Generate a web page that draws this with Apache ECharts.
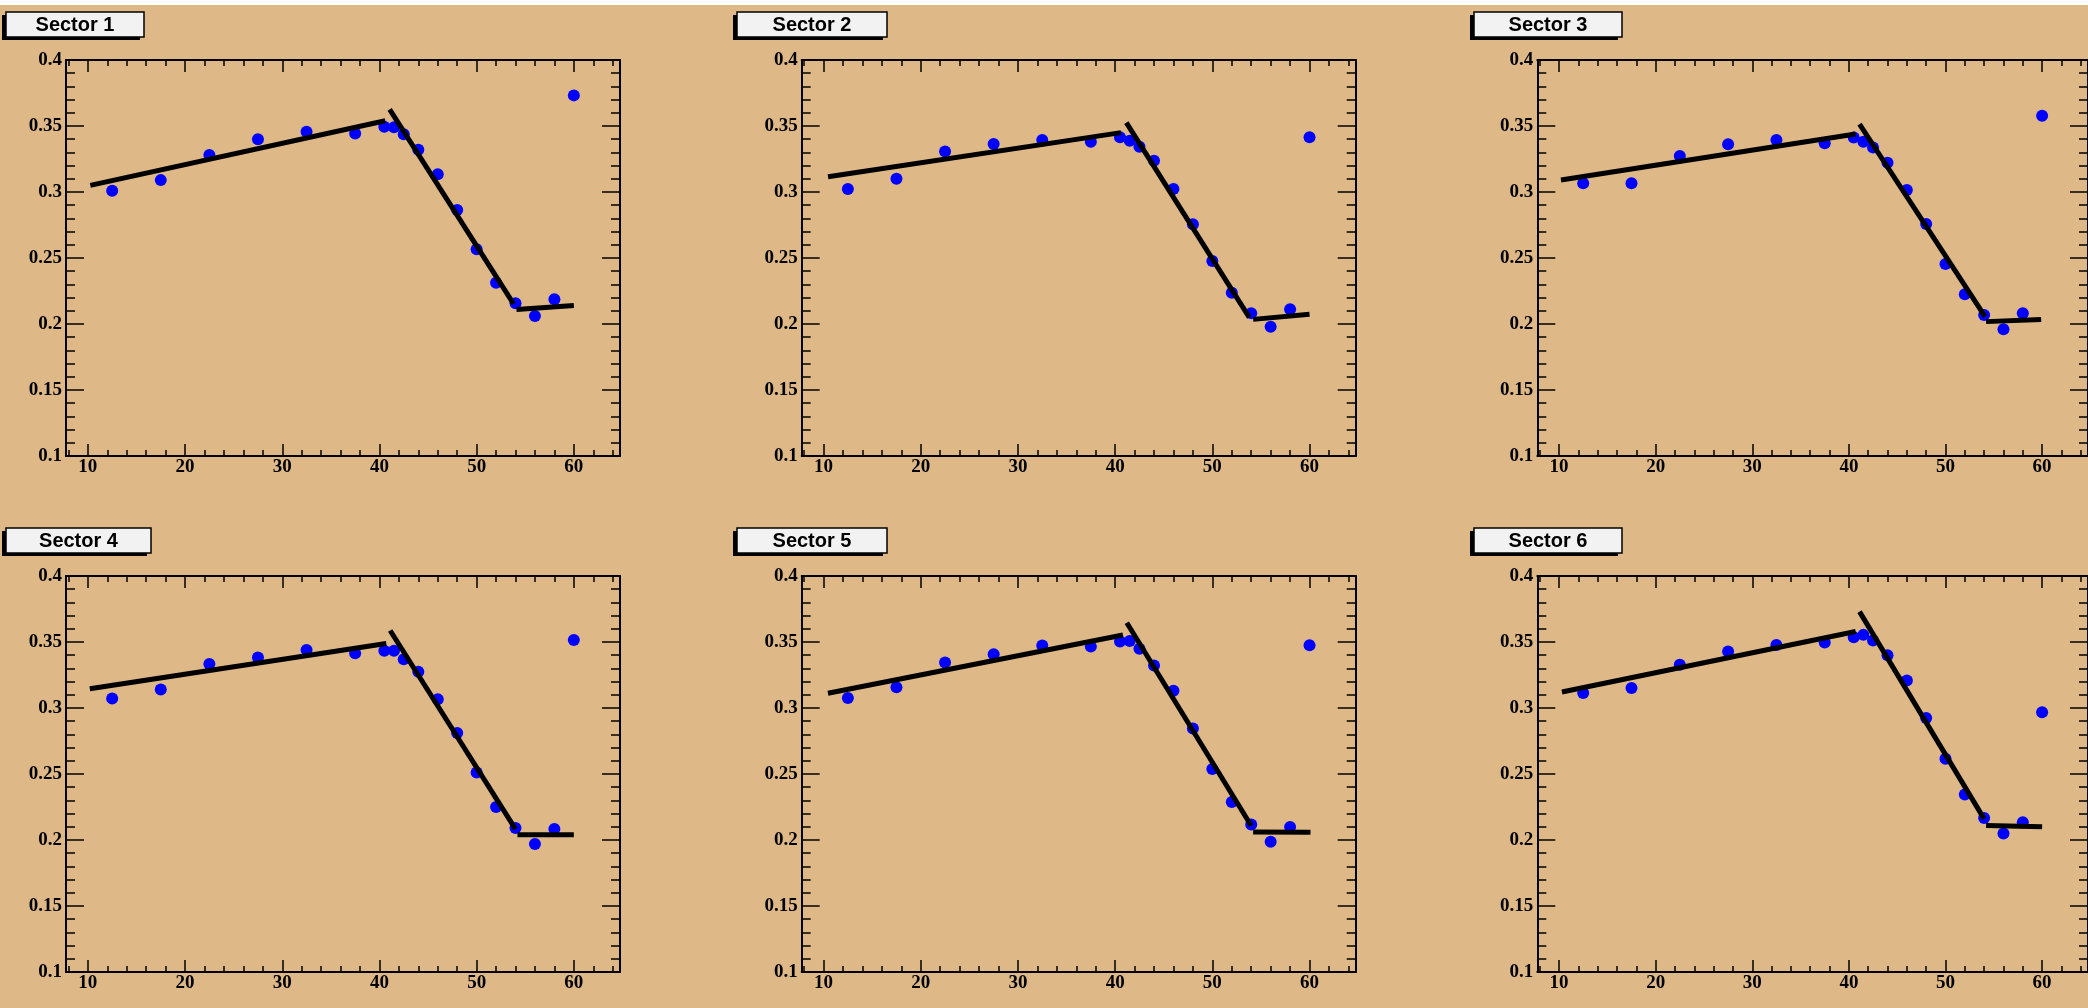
<!DOCTYPE html>
<html>
<head>
<meta charset="utf-8">
<script src="https://cdn.jsdelivr.net/npm/echarts@6/dist/echarts.min.js"></script>
<style>html,body{margin:0;padding:0;background:#deb887;}#c{width:2088px;height:1008px;}</style>
</head>
<body>
<div id="c"></div>
<script>
// ---- data ----
const titles = ['Sector 1', 'Sector 2', 'Sector 3', 'Sector 4', 'Sector 5', 'Sector 6'];
const xValues = [12.5, 17.5, 22.5, 27.5, 32.5, 37.5, 40.5, 41.5, 42.5, 44, 46, 48, 50, 52, 54, 56, 58, 60];
const sector1 = [0.301, 0.309, 0.328, 0.340, 0.3457, 0.3444, 0.3495, 0.349, 0.3437, 0.332, 0.3134, 0.2864, 0.2566, 0.2313, 0.2157, 0.206, 0.2187, 0.3732];
const sector2 = [0.3023, 0.310, 0.3306, 0.3364, 0.3394, 0.3381, 0.3414, 0.3389, 0.3343, 0.3237, 0.3023, 0.2755, 0.2477, 0.2237, 0.2081, 0.198, 0.2111, 0.3414];
const sector3 = [0.3066, 0.3066, 0.3273, 0.3361, 0.3394, 0.3369, 0.3412, 0.3381, 0.3338, 0.3222, 0.3015, 0.2758, 0.2455, 0.2225, 0.2068, 0.196, 0.2081, 0.3578];
const sector4 = [0.3072, 0.3140, 0.3334, 0.3382, 0.3440, 0.3415, 0.3433, 0.3433, 0.3370, 0.3274, 0.3067, 0.2810, 0.2512, 0.2250, 0.2091, 0.1970, 0.2084, 0.3516];
const sector5 = [0.3075, 0.3158, 0.3344, 0.3407, 0.3473, 0.3465, 0.3503, 0.3508, 0.3448, 0.3322, 0.3130, 0.2845, 0.2538, 0.2288, 0.2117, 0.1986, 0.2099, 0.3475];
const sector6 = [0.3113, 0.3151, 0.3327, 0.3428, 0.3478, 0.3496, 0.3536, 0.3554, 0.3511, 0.3400, 0.3209, 0.2924, 0.2616, 0.2344, 0.2167, 0.2049, 0.2135, 0.2967];
// fit segments: [x0, y0, x1, y1]
const fit1 = [[10.25, 0.305, 40.6, 0.354], [41.05, 0.3626, 53.8, 0.2152], [54.1, 0.211, 60, 0.214]];
const fit2 = [[10.46, 0.3116, 40.6, 0.345], [41.15, 0.3525, 53.8, 0.205], [54.2, 0.2035, 60, 0.2073]];
const fit3 = [[10.2, 0.3091, 40.7, 0.3439], [41.1, 0.3515, 54.1, 0.2056], [54.2, 0.2018, 59.9, 0.2035]];
const fit4 = [[10.2, 0.3146, 40.7, 0.3489], [41.1, 0.3587, 54.0, 0.2083], [54.2, 0.204, 60, 0.204]];
const fit5 = [[10.45, 0.3112, 40.8, 0.3553], [41.2, 0.3646, 54.0, 0.2108], [54.2, 0.206, 60.1, 0.2058]];
const fit6 = [[10.3, 0.3121, 40.7, 0.3579], [41.1, 0.373, 54.0, 0.216], [54.2, 0.211, 60, 0.21]];
const xMajorTicks = [10, 20, 30, 40, 50, 60];
const xMinorTicks = [8, 12, 14, 16, 18, 22, 24, 26, 28, 32, 34, 36, 38, 42, 44, 46, 48, 52, 54, 56, 58, 62, 64];
const yMajorTicks = [0.1, 0.15, 0.2, 0.25, 0.3, 0.35, 0.4];
const yMinorTicks = [0.11, 0.12, 0.13, 0.14, 0.16, 0.17, 0.18, 0.19, 0.21, 0.22, 0.23, 0.24, 0.26, 0.27, 0.28, 0.29, 0.31, 0.32, 0.33, 0.34, 0.36, 0.37, 0.38, 0.39];
const xMin = 7.75, xMax = 64.75, yMin = 0.1, yMax = 0.4;

const sectors = [sector1, sector2, sector3, sector4, sector5, sector6];
const fits = [fit1, fit2, fit3, fit4, fit5, fit6];

// ---- layout ----
const colLeft = [66, 801.7, 1537.3];
const rowTop = [60, 576];
const plotW = 554, plotH = 396;
const boxX = [[6, 144], [737, 887], [1474, 1622], [6, 151], [737, 887], [1474, 1622]];
const boxY = [12, 528];
const boxH = 25;

const labelFont = { fontFamily: 'Liberation Serif', fontWeight: 'bold', fontSize: 19, color: '#000' };
const lineCol = '#000';

const grids = [], xAxes = [], yAxes = [], series = [], graphics = [];

graphics.push({ type: 'rect', shape: { x: 0, y: 0, width: 2088, height: 5 }, style: { fill: '#ffffff' }, z: 100 });

for (let i = 0; i < 6; i++) {
  const c = i % 3, r = Math.floor(i / 3);
  grids.push({ left: colLeft[c], top: rowTop[r], width: plotW, height: plotH, containLabel: false });
  const xBase = { gridIndex: i, type: 'value', min: xMin, max: xMax, splitLine: { show: false } };
  const yBase = { gridIndex: i, type: 'value', min: yMin, max: yMax, splitLine: { show: false } };
  xAxes.push(Object.assign({}, xBase, {
    position: 'bottom',
    axisLine: { show: true, onZero: false, lineStyle: { color: lineCol, width: 2 } },
    axisTick: { show: true, inside: true, length: 12, customValues: xMajorTicks, lineStyle: { color: lineCol, width: 1.5 } },
    axisLabel: Object.assign({ show: true, margin: 2, customValues: xMajorTicks }, labelFont)
  }));
  xAxes.push(Object.assign({}, xBase, {
    position: 'bottom',
    axisLine: { show: false, onZero: false },
    axisTick: { show: true, inside: true, length: 6, customValues: xMinorTicks, lineStyle: { color: lineCol, width: 1.5 } },
    axisLabel: { show: false }
  }));
  xAxes.push(Object.assign({}, xBase, {
    position: 'top',
    axisLine: { show: true, onZero: false, lineStyle: { color: lineCol, width: 2 } },
    axisTick: { show: true, inside: true, length: 12, customValues: xMajorTicks, lineStyle: { color: lineCol, width: 1.5 } },
    axisLabel: { show: false }
  }));
  xAxes.push(Object.assign({}, xBase, {
    position: 'top',
    axisLine: { show: false, onZero: false },
    axisTick: { show: true, inside: true, length: 6, customValues: xMinorTicks, lineStyle: { color: lineCol, width: 1.5 } },
    axisLabel: { show: false }
  }));
  yAxes.push(Object.assign({}, yBase, {
    position: 'left',
    axisLine: { show: true, onZero: false, lineStyle: { color: lineCol, width: 2 } },
    axisTick: { show: true, inside: true, length: 18, customValues: yMajorTicks, lineStyle: { color: lineCol, width: 1.5 } },
    axisLabel: Object.assign({ show: true, margin: 4, customValues: yMajorTicks, formatter: v => String(+(+v).toFixed(2)) }, labelFont)
  }));
  yAxes.push(Object.assign({}, yBase, {
    position: 'left',
    axisLine: { show: false, onZero: false },
    axisTick: { show: true, inside: true, length: 9, customValues: yMinorTicks, lineStyle: { color: lineCol, width: 1.5 } },
    axisLabel: { show: false }
  }));
  yAxes.push(Object.assign({}, yBase, {
    position: 'right',
    axisLine: { show: true, onZero: false, lineStyle: { color: lineCol, width: 2 } },
    axisTick: { show: true, inside: true, length: 18, customValues: yMajorTicks, lineStyle: { color: lineCol, width: 1.5 } },
    axisLabel: { show: false }
  }));
  yAxes.push(Object.assign({}, yBase, {
    position: 'right',
    axisLine: { show: false, onZero: false },
    axisTick: { show: true, inside: true, length: 9, customValues: yMinorTicks, lineStyle: { color: lineCol, width: 1.5 } },
    axisLabel: { show: false }
  }));

  series.push({
    type: 'scatter', xAxisIndex: 4 * i, yAxisIndex: 4 * i,
    data: xValues.map((x, k) => [x, sectors[i][k]]),
    symbol: 'circle', symbolSize: 12,
    itemStyle: { color: '#0000ff', opacity: 1 }, z: 2
  });
  fits[i].forEach(seg => {
    series.push({
      type: 'line', xAxisIndex: 4 * i, yAxisIndex: 4 * i,
      data: [[seg[0], seg[1]], [seg[2], seg[3]]],
      showSymbol: false, symbol: 'none',
      lineStyle: { color: '#000', width: 5, cap: 'butt' }, z: 3
    });
  });

  const bx = boxX[i][0], bw = boxX[i][1] - boxX[i][0], by = boxY[r];
  graphics.push({ type: 'rect', shape: { x: bx - 4, y: by + 3, width: bw, height: boxH }, style: { fill: '#000' }, z: 10 });
  graphics.push({ type: 'rect', shape: { x: bx, y: by, width: bw, height: boxH }, style: { fill: '#f2f2f2', stroke: '#000', lineWidth: 1.5 }, z: 11 });
  graphics.push({
    type: 'text', x: bx + bw / 2, y: by + boxH / 2 + 1, z: 12,
    style: { text: titles[i], fontFamily: 'Liberation Sans', fontWeight: 'bold', fontSize: 20, fill: '#000', align: 'center', verticalAlign: 'middle' }
  });
}

const chart = echarts.init(document.getElementById('c'), null, { renderer: 'canvas' });
chart.setOption({
  animation: false,
  backgroundColor: '#deb887',
  grid: grids,
  xAxis: xAxes,
  yAxis: yAxes,
  series: series,
  graphic: graphics
});
</script>
</body>
</html>
